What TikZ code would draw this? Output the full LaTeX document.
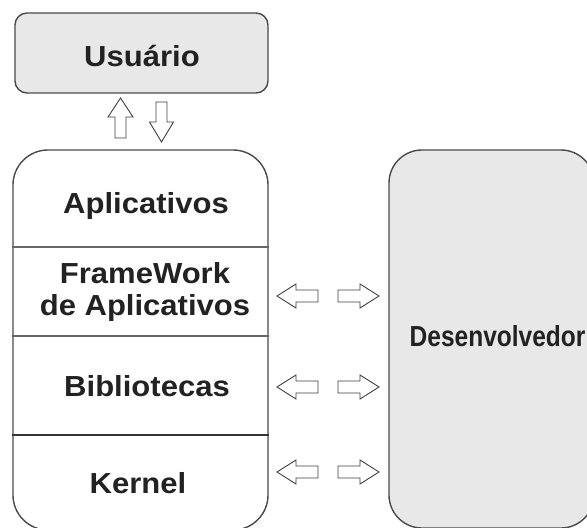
\documentclass[tikz,border=0pt]{standalone}
\usepackage{fontspec}
\setmainfont{Liberation Sans}[FakeStretch=1.07]
\usepackage{tikz}
\usetikzlibrary{positioning,calc}

\definecolor{boxfill}{HTML}{E8E8E8}
\definecolor{boxline}{HTML}{4A4A4A}
\definecolor{txt}{HTML}{222222}

\tikzset{
  lbl/.style={font=\fontsize{14.5}{17}\selectfont\bfseries, text=txt, inner sep=0pt, align=center},
  userbox/.style={draw=boxline, line width=0.7pt, fill=boxfill, rounded corners=6pt, inner sep=0pt},
  stackbox/.style={draw=boxline, line width=0.7pt, fill=white, rounded corners=17.5pt, inner sep=0pt},
  devbox/.style={draw=boxline, line width=0.7pt, fill=boxfill, rounded corners=16.5pt, inner sep=0pt},
  layerline/.style={draw=black!60, line width=0.7pt},
  blockarrow/.style={draw=black!75, line width=0.45pt, fill=white, line join=miter}
}

\begin{document}
\begin{tikzpicture}[x=0.5pt,y=-0.5pt]
\useasboundingbox (0,0) rectangle (587,528);

% usuario
\node[userbox, minimum width=126.5pt, minimum height=40pt] (user) at (141.5,53) {};
\node[lbl] (usertxt) at (142,56) {Usuário};

% setas verticais
\draw[blockarrow] (120.5,98) -- ++(12.5,19) -- ++(-7,0) -- ++(0,21) -- ++(-11,0) -- ++(0,-21) -- ++(-7,0) -- cycle;
\draw[blockarrow] (161.5,142) -- ++(12,-20) -- ++(-6.5,0) -- ++(0,-20) -- ++(-11,0) -- ++(0,20) -- ++(-6.5,0) -- cycle;

% pilha de camadas
\node[stackbox, minimum width=127.5pt, minimum height=190pt] (stack) at (140.5,340) {};
\coordinate (s1) at (0,247);
\coordinate (s2) at (0,336);
\coordinate (s3) at (0,435);
\draw[layerline] (stack.west |- s1) -- (stack.east |- s1);
\draw[layerline] (stack.west |- s2) -- (stack.east |- s2);
\draw[layerline, draw=black!80] (stack.west |- s3) -- (stack.east |- s3);

\node[lbl] (apps) at (146,206) {Aplicativos};
\node[lbl] (frame) at (145,292) {FrameWork\\[-1pt]de Aplicativos};
\node[lbl] (libs) at (147,386) {Bibliotecas};
\node[lbl] (kernel) at (138,483) {Kernel};

% desenvolvedor
\node[devbox, minimum width=102.5pt, minimum height=189pt] (dev) at (491.5,339) {};
\node[lbl, anchor=west] (devtxt) at ($(dev.west)+(21,-3)$) {\scalebox{0.79}[1]{Desenvolvedor}};

% setas horizontais
\foreach \y in {296,387,472} {
  \draw[blockarrow] (277,\y) -- ++(19,-12) -- ++(0,6) -- ++(22,0) -- ++(0,12) -- ++(-22,0) -- ++(0,6) -- cycle;
  \draw[blockarrow] (379,\y) -- ++(-19,-12) -- ++(0,6) -- ++(-22,0) -- ++(0,12) -- ++(22,0) -- ++(0,6) -- cycle;
}
\end{tikzpicture}
\end{document}
